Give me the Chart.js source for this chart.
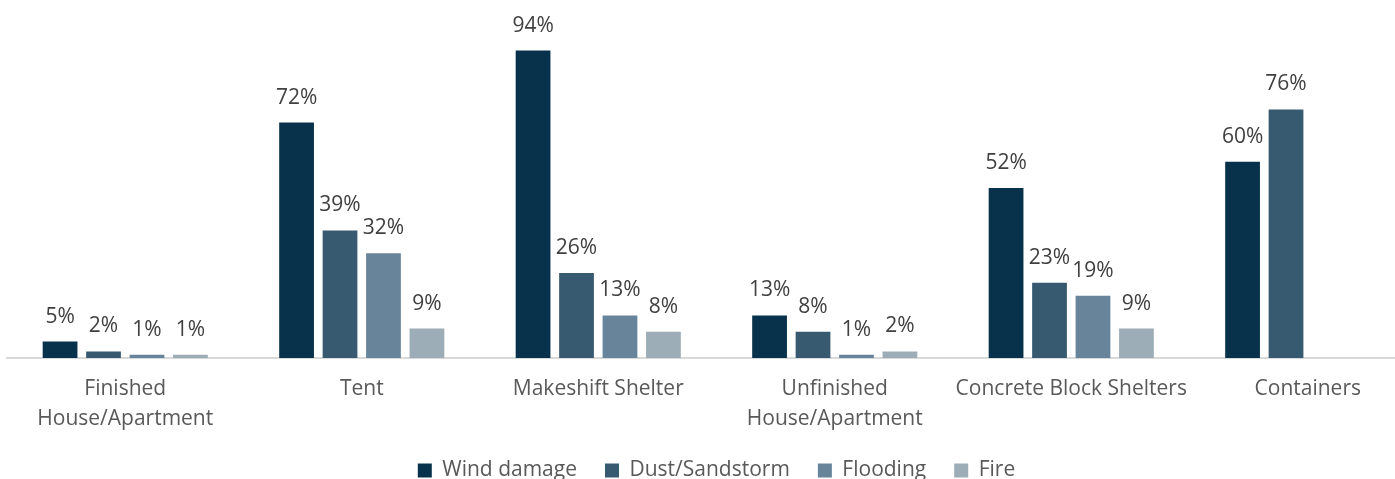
<!DOCTYPE html>
<html>
<head>
<meta charset="utf-8">
<script src="https://cdn.jsdelivr.net/npm/chart.js@4.4.1/dist/chart.umd.min.js"></script>
<style>
  html, body { margin: 0; padding: 0; background: #fff; overflow: hidden; }
  #wrap { width: 1430px; height: 479px; }
</style>
</head>
<body>
<div id="wrap"><canvas id="chart"></canvas></div>
<script>
// shelter types and damage shares (%)
const categories = [
  ['Finished', 'House/Apartment'],
  'Tent',
  'Makeshift Shelter',
  ['Unfinished', 'House/Apartment'],
  'Concrete Block Shelters',
  'Containers',
];
const windDamage = [5, 72, 94, 13, 52, 60];
const dustSandstorm = [2, 39, 26, 8, 23, 76];
const flooding = [1, 32, 13, 1, 19, null];
const fire = [1, 9, 8, 2, 9, null];

const seriesNames = ['Wind damage', 'Dust/Sandstorm', 'Flooding', 'Fire'];
const seriesColors = ['#08324c', '#375a70', '#68849a', '#9dadb8'];

// draws "NN%" above every bar
const barLabels = {
  id: 'barLabels',
  afterDatasetsDraw(chart) {
    const ctx = chart.ctx;
    ctx.save();
    ctx.font = '21px "Open Sans", sans-serif';
    ctx.fillStyle = '#404040';
    ctx.textAlign = 'center';
    ctx.textBaseline = 'alphabetic';
    chart.data.datasets.forEach((ds, i) => {
      chart.getDatasetMeta(i).data.forEach((bar, j) => {
        const v = ds.data[j];
        if (v == null) return;
        ctx.fillText(v + '%', bar.x, bar.y - 19);
      });
    });
    ctx.restore();
  }
};

const seriesData = [windDamage, dustSandstorm, flooding, fire];

new Chart(document.getElementById('chart'), {
  type: 'bar',
  data: {
    labels: categories,
    datasets: seriesData.map((d, i) => ({
      label: seriesNames[i],
      data: d,
      backgroundColor: seriesColors[i],
      categoryPercentage: 0.735,
      barPercentage: 0.8,
    })),
  },
  options: {
    responsive: true,
    maintainAspectRatio: false,
    animation: false,
    layout: { padding: { top: 31, left: 7, right: 4, bottom: -12 } },
    scales: {
      x: {
        grid: { display: false },
        border: { display: true, color: '#d9d9d9', width: 2 },
        ticks: {
          color: '#595959',
          font: { family: '"Open Sans", sans-serif', size: 21, lineHeight: 1.43 },
          padding: 8,
          maxRotation: 0,
          autoSkip: false,
        },
        // pull the legend a bit closer to the category labels
        afterFit(scale) { scale.height -= 10; },
      },
      y: {
        display: false,
        min: 0,
        max: 100,
      },
    },
    plugins: {
      legend: {
        position: 'bottom',
        labels: {
          color: '#595959',
          font: { family: '"Open Sans", sans-serif', size: 21 },
          boxWidth: 14,
          boxHeight: 14,
          padding: 28,
        },
      },
      tooltip: { enabled: false },
    },
  },
  plugins: [barLabels],
});
</script>
</body>
</html>
